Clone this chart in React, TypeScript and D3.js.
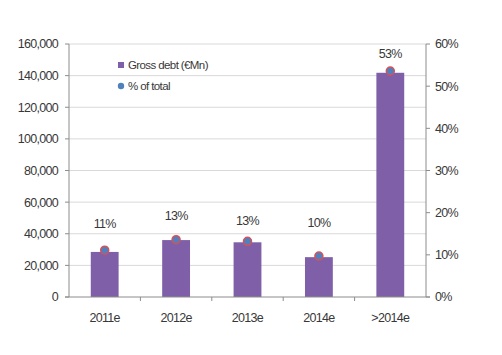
import React from "react";
import * as d3 from "d3";

const categories = ["2011e", "2012e", "2013e", "2014e", ">2014e"];
const grossDebt = [28500, 36000, 34600, 25200, 141800];
const pctOfTotal = [11.1, 13.6, 13.2, 9.7, 53.6];
const pctLabels = ["11%", "13%", "13%", "10%", "53%"];
// label anchor heights, in % axis units
const labelAt = [17.5, 19.2, 18.0, 17.7, 57.6];
const leftTicks = [0, 20000, 40000, 60000, 80000, 100000, 120000, 140000, 160000];
const rightTicks = [0, 10, 20, 30, 40, 50, 60];

const W = 502, H = 355;
const left = 69, right = 426, top = 44, bottom = 297;
const font = "'Liberation Sans', Arial, sans-serif";
const textColor = "#383838";
const axisColor = "#8c8c8c";

export default function App() {
  const x = d3.scaleBand<string>().domain(categories).range([left, right]).paddingInner(0).paddingOuter(0);
  const yL = d3.scaleLinear().domain([0, 160000]).range([bottom, top]);
  const yR = d3.scaleLinear().domain([0, 60]).range([bottom, top]);
  const bw = x.bandwidth() * 0.39;
  const fmt = d3.format(",");
  return (
    <svg width={W} height={H} style={{ position: "absolute", left: 0, top: 0, background: "#fff" }} fontFamily={font}>
      {leftTicks.slice(1).map((t) => (
        <line key={"g" + t} x1={left} x2={right} y1={yL(t)} y2={yL(t)} stroke="#d9d9d9" strokeWidth={1} />
      ))}
      {categories.map((c, i) => (
        <rect key={c} x={x(c)! + (x.bandwidth() - bw) / 2} y={yL(grossDebt[i])} width={bw} height={bottom - yL(grossDebt[i])} fill="#7f60a8" />
      ))}
      <line x1={left} x2={left} y1={top} y2={bottom} stroke={axisColor} />
      <line x1={right} x2={right} y1={top} y2={bottom} stroke={axisColor} />
      <line x1={left - 4} x2={right + 4} y1={bottom} y2={bottom} stroke={axisColor} />
      {leftTicks.map((t) => (
        <g key={"l" + t}>
          <line x1={left - 4} x2={left} y1={yL(t)} y2={yL(t)} stroke={axisColor} />
          <text x={58} y={yL(t)} dy="0.35em" textAnchor="end" fontSize={12.5} letterSpacing={-0.7} fill={textColor}>{fmt(t)}</text>
        </g>
      ))}
      {rightTicks.map((t) => (
        <g key={"r" + t}>
          <line x1={right} x2={right + 4} y1={yR(t)} y2={yR(t)} stroke={axisColor} />
          <text x={435} y={yR(t)} dy="0.35em" textAnchor="start" fontSize={12.5} letterSpacing={-0.7} fill={textColor}>{t + "%"}</text>
        </g>
      ))}
      {categories.map((c, i) => (
        <g key={"x" + c}>
          {i > 0 && <line x1={x(c)!} x2={x(c)!} y1={bottom} y2={bottom + 4} stroke={axisColor} />}
          <text x={x(c)! + x.bandwidth() / 2} y={318} dy="0.35em" textAnchor="middle" fontSize={12.5} letterSpacing={-0.7} fill={textColor}>{c}</text>
        </g>
      ))}
      {categories.map((c, i) => (
        <g key={"p" + c}>
          <circle cx={x(c)! + x.bandwidth() / 2} cy={yR(pctOfTotal[i])} r={4} fill="#4f81bd" stroke="#d9505a" strokeWidth={1.5} />
          <text x={x(c)! + x.bandwidth() / 2} y={yR(labelAt[i])} dy="0.35em" textAnchor="middle" fontSize={12.5} letterSpacing={-0.7} fill={textColor}>{pctLabels[i]}</text>
        </g>
      ))}
      <rect x={118} y={62} width={6} height={6} fill="#7f60a8" />
      <text x={128} y={65} dy="0.35em" fontSize={11.5} letterSpacing={-0.6} fill={textColor}>Gross debt (€Mn)</text>
      <circle cx={121} cy={86} r={3.2} fill="#4f81bd" />
      <text x={128} y={86} dy="0.35em" fontSize={11.5} letterSpacing={-0.6} fill={textColor}>% of total</text>
    </svg>
  );
}
